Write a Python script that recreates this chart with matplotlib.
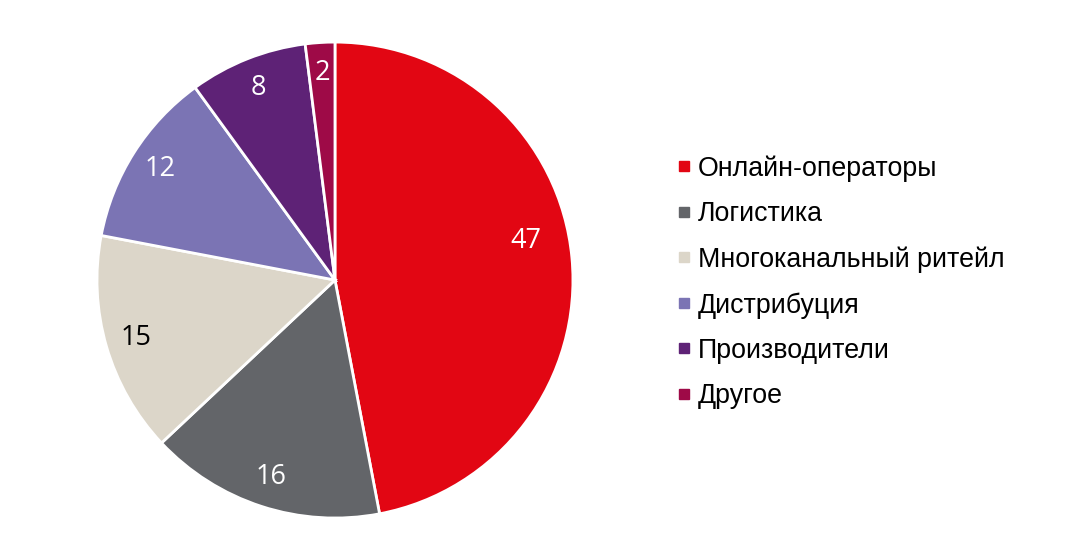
import numpy as np
import matplotlib
matplotlib.use("Agg")
import matplotlib.pyplot as plt
from matplotlib.lines import Line2D

# Market shares by segment, %
CATEGORIES = ["Онлайн-операторы", "Логистика", "Многоканальный ритейл",
              "Дистрибуция", "Производители", "Другое"]
VALUES = [47, 16, 15, 12, 8, 2]
COLORS = ["#E20613", "#636569", "#DCD6C9", "#7B74B4", "#5E2276", "#9E0A47"]
LABEL_COLORS = ["white", "white", "black", "white", "white", "white"]

fig = plt.figure(figsize=(10.79, 5.56), dpi=100)
ax = fig.add_axes([0.0899, 0.0683, 0.4411, 0.856])

wedges, texts = ax.pie(
    VALUES,
    colors=COLORS,
    startangle=90,
    counterclock=False,
    radius=1.0,
    labels=[str(v) for v in VALUES],
    labeldistance=0.87,
    wedgeprops=dict(edgecolor="white", linewidth=2.0),
    textprops=dict(fontsize=19.5, family=["Open Sans", "DejaVu Sans"]),
)
for t, c in zip(texts, LABEL_COLORS):
    t.set_color(c)
    t.set_ha("center")
    t.set_va("center")

# the big slice label sits a bit higher and closer, as in the original
w0 = wedges[0]
ang = np.deg2rad((w0.theta1 + w0.theta2) / 2 + 6)
texts[0].set_position((0.82 * np.cos(ang), 0.82 * np.sin(ang)))

ax.set_xlim(-1, 1)
ax.set_ylim(-1, 1)
ax.set_aspect("equal")
ax.axis("off")

handles = [Line2D([], [], marker="s", linestyle="none", markersize=6.5,
                  markerfacecolor=c, markeredgecolor=c) for c in COLORS]
fig.legend(
    handles, CATEGORIES,
    loc="center left",
    bbox_to_anchor=(663 / 1079, 0.4925),
    frameon=False,
    borderpad=0,
    handlelength=0.6,
    handletextpad=0.2,
    labelspacing=0.72,
    prop=dict(family="Liberation Sans", size=19.3),
)

fig.savefig("out.png", dpi=100)
